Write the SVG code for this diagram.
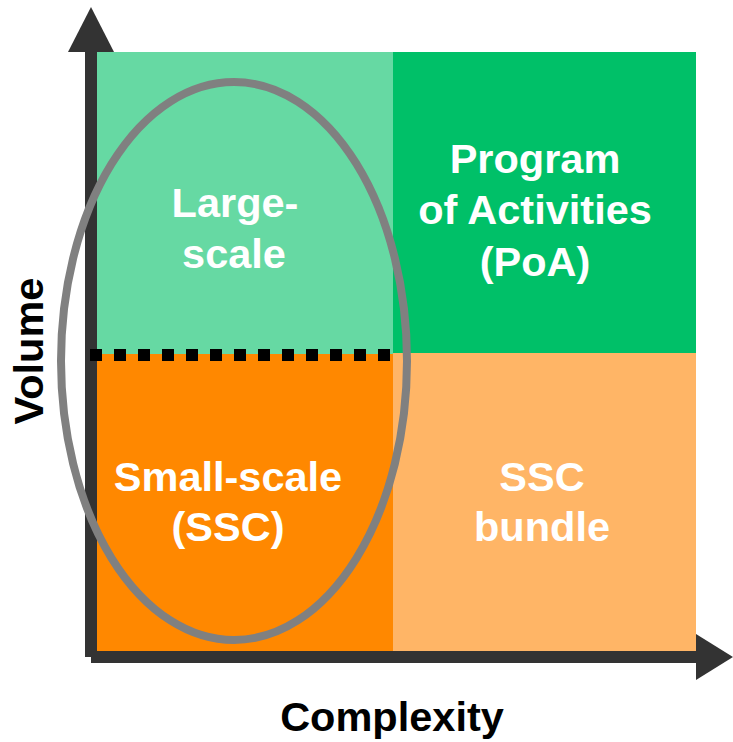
<svg xmlns="http://www.w3.org/2000/svg" width="733" height="742" viewBox="0 0 733 742">
  <style>
    .q { font-family: "Liberation Sans", Arial, sans-serif; font-weight: bold; font-size: 41.5px; fill: #FFFFFF; text-anchor: middle; }
    .ax { font-family: "Liberation Sans", Arial, sans-serif; font-weight: bold; font-size: 41.5px; fill: #000000; text-anchor: middle; }
    .axis { stroke: #333333; stroke-width: 12; fill: none; }
    .head { fill: #333333; }
  </style>
  <rect width="733" height="742" fill="#FFFFFF"/>
  <g id="large-scale">
    <rect x="97" y="52" width="296" height="302" fill="#66D9A3"/>
    <text class="q" x="235" y="217">Large-</text>
    <text class="q" x="234" y="268">scale</text>
  </g>
  <g id="poa">
    <rect x="393" y="52" width="303" height="301" fill="#00C068"/>
    <text class="q" x="535" y="173">Program</text>
    <text class="q" x="535" y="224">of Activities</text>
    <text class="q" x="535" y="276">(PoA)</text>
  </g>
  <g id="small-scale">
    <rect x="97" y="354" width="296" height="297" fill="#FF8800"/>
    <text class="q" x="228" y="491">Small-scale</text>
    <text class="q" x="228" y="541">(SSC)</text>
  </g>
  <g id="ssc-bundle">
    <rect x="393" y="353" width="303" height="298" fill="#FFB566"/>
    <text class="q" x="542" y="491">SSC</text>
    <text class="q" x="542" y="541">bundle</text>
  </g>
  <g id="connectors">
    <line class="axis" x1="91" y1="657" x2="91" y2="50"/>
    <polygon class="head" points="91,7 68,52 114,52"/>
    <line class="axis" x1="91" y1="657" x2="698" y2="657"/>
    <polygon class="head" points="733,657 696,634 696,680"/>
    <line x1="90" y1="355" x2="391" y2="355" stroke="#000000" stroke-width="12" stroke-dasharray="12 12"/>
    <ellipse cx="234" cy="361" rx="173" ry="279" fill="none" stroke="#808080" stroke-width="8"/>
  </g>
  <g id="labels">
    <text class="ax" x="392" y="731">Complexity</text>
    <text class="ax" font-size="42" transform="translate(43,351) rotate(-90)" x="0" y="0">Volume</text>
  </g>
</svg>
